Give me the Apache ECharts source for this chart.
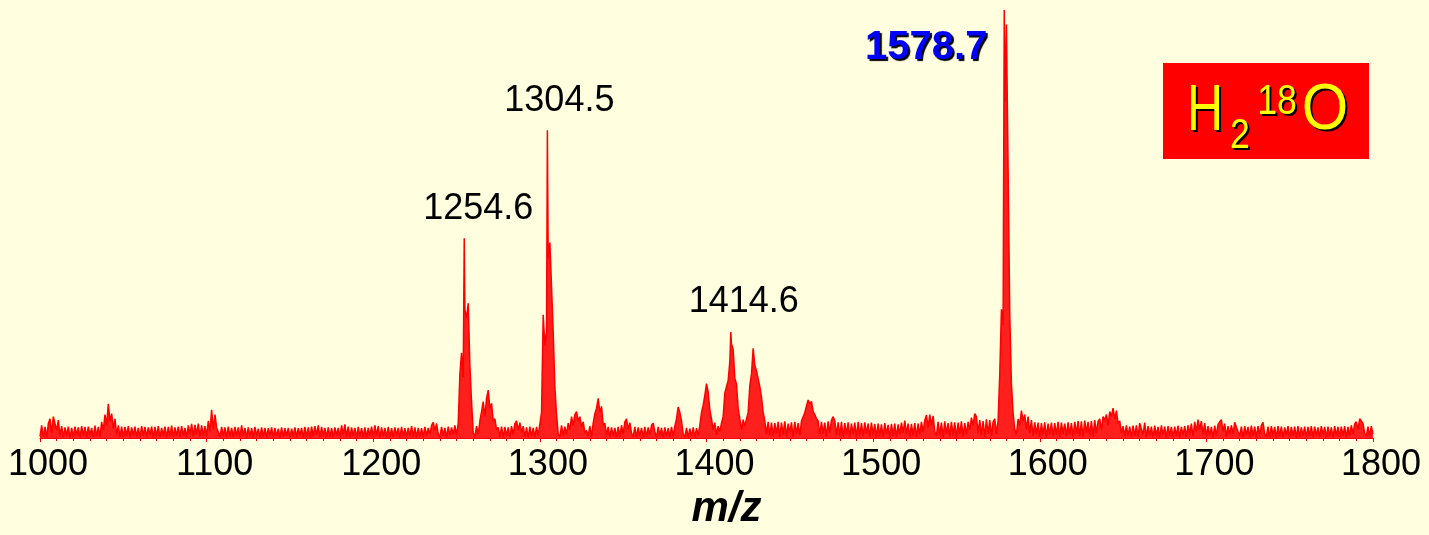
<!DOCTYPE html>
<html>
<head>
<meta charset="utf-8">
<script src="https://cdn.jsdelivr.net/npm/echarts@6/dist/echarts.min.js"></script>
<style>
  html, body { margin: 0; padding: 0; background: #FFFFE0; }
  #chart { width: 1429px; height: 535px; }
</style>
</head>
<body>
<div id="chart"></div>
<script>
// Mass spectrum, relative intensity (0-1000) sampled every 1 m/z from 1000 to 1800
const mzStart = 1000;
const mzStep = 1;
const intensity = [
  4, 30, 3, 26, 2, 34, 45, 12, 50, 48, 18, 42, 5, 28, 2, 25, 6, 27, 1, 24,            // 1000
  3, 27, 7, 25, 1, 28, 5, 26, 2, 27, 6, 24, 1, 29, 4, 26, 3, 38, 18, 55,              // 1020
  30, 80, 40, 57, 22, 45, 8, 30, 3, 27, 1, 26, 5, 28, 2, 25, 6, 27, 3, 24,            // 1040
  1, 28, 5, 26, 2, 25, 7, 27, 1, 26, 4, 28, 2, 24, 6, 27, 1, 26, 4, 29,               // 1060
  2, 25, 5, 27, 3, 28, 6, 24, 2, 30, 8, 33, 4, 31, 9, 34, 3, 30, 6, 28,               // 1080
  4, 40, 15, 66, 20, 55, 25, 28, 3, 26, 5, 25, 1, 27, 4, 24, 2, 26, 6, 25,            // 1100
  2, 30, 6, 24, 1, 25, 4, 23, 2, 26, 5, 22, 1, 25, 3, 24, 2, 23, 6, 25,               // 1120
  1, 24, 4, 22, 1, 25, 3, 23, 5, 24, 1, 22, 4, 25, 2, 23, 6, 24, 1, 26,               // 1140
  3, 25, 1, 27, 4, 28, 7, 30, 2, 26, 5, 24, 1, 25, 3, 23, 2, 25, 6, 24,               // 1160
  2, 30, 8, 32, 3, 27, 1, 25, 5, 24, 1, 26, 4, 23, 2, 25, 1, 24, 5, 27,               // 1180
  3, 30, 6, 28, 1, 25, 4, 24, 1, 26, 3, 23, 2, 25, 6, 24, 1, 26, 4, 23,               // 1200
  2, 24, 5, 28, 3, 25, 1, 24, 4, 23, 2, 26, 6, 24, 8, 30, 37, 18, 34, 10,             // 1220
  3, 26, 5, 24, 1, 27, 6, 25, 8, 30, 6, 35, 150, 199, 142, 300, 281, 315, 169, 85,    // 1240
  12, 4, 28, 8, 40, 62, 85, 50, 93, 112, 70, 81, 40, 45, 20, 25, 3, 27, 1, 26,        // 1260
  5, 25, 2, 28, 8, 34, 40, 18, 36, 12, 28, 3, 25, 1, 27, 4, 24, 2, 26, 6,             // 1280
  8, 60, 288, 216, 250, 420, 457, 453, 248, 119, 55, 10, 3, 30, 6, 27, 8, 35, 20, 50, // 1300
  30, 55, 62, 40, 50, 25, 38, 12, 18, 5, 28, 3, 35, 57, 70, 93, 60, 74, 30, 35,       // 1320
  6, 26, 2, 25, 5, 24, 1, 26, 4, 30, 10, 38, 45, 20, 36, 12, 3, 26, 1, 25,            // 1340
  5, 24, 1, 26, 3, 25, 7, 30, 35, 15, 2, 26, 5, 24, 1, 25, 4, 23, 2, 26,              // 1360
  4, 28, 45, 73, 60, 40, 10, 2, 24, 1, 22, 4, 25, 2, 23, 6, 30, 60, 77, 100,          // 1380
  127, 108, 66, 45, 20, 36, 8, 28, 15, 35, 50, 105, 120, 134, 180, 220, 207, 140, 126, 70, // 1400
  45, 20, 43, 28, 45, 60, 123, 150, 210, 170, 157, 157, 120, 96, 60, 40, 10, 38, 6, 36,   // 1420
  5, 35, 10, 38, 3, 36, 8, 39, 4, 34, 12, 37, 2, 38, 9, 35, 6, 40, 50, 60,            // 1440
  75, 89, 80, 86, 62, 55, 45, 40, 8, 38, 10, 36, 3, 39, 12, 42, 50, 40, 7, 37,        // 1460
  5, 38, 2, 35, 9, 37, 3, 34, 8, 36, 1, 38, 6, 35, 4, 37, 10, 34, 2, 36,              // 1480
  7, 33, 2, 34, 5, 32, 3, 35, 9, 31, 1, 33, 6, 34, 2, 32, 8, 36, 12, 41,              // 1500
  10, 34, 3, 33, 6, 35, 2, 34, 8, 38, 14, 42, 54, 25, 55, 30, 52, 15, 6, 38,          // 1520
  7, 36, 2, 39, 10, 35, 4, 38, 6, 37, 1, 36, 9, 39, 3, 35, 8, 38, 20, 48,             // 1540
  30, 57, 50, 12, 42, 6, 40, 3, 44, 10, 42, 5, 38, 45, 10, 40, 150, 301, 264, 787,    // 1560
  966, 632, 290, 127, 59, 20, 8, 45, 30, 64, 40, 55, 20, 50, 12, 42, 5, 37, 9, 36,    // 1580
  3, 35, 8, 37, 2, 34, 9, 36, 4, 35, 7, 38, 2, 36, 10, 34, 5, 37, 8, 35,              // 1600
  3, 38, 10, 40, 5, 39, 2, 41, 12, 38, 6, 40, 3, 42, 11, 39, 45, 20, 50, 42,          // 1620
  55, 30, 62, 50, 70, 45, 64, 35, 40, 12, 28, 4, 30, 6, 27, 2, 29, 5, 30, 3,          // 1640
  35, 38, 8, 36, 2, 28, 6, 27, 1, 29, 5, 26, 2, 30, 7, 27, 1, 28, 6, 26,              // 1660
  2, 27, 5, 29, 1, 26, 7, 28, 3, 30, 9, 34, 4, 38, 15, 43, 20, 40, 8, 35,             // 1680
  4, 28, 6, 26, 1, 29, 5, 32, 38, 43, 15, 34, 3, 28, 8, 30, 10, 37, 40, 15,           // 1700
  5, 27, 1, 28, 7, 26, 2, 29, 5, 27, 1, 28, 8, 30, 37, 10, 3, 27, 1, 28,              // 1720
  6, 26, 1, 28, 4, 27, 2, 25, 7, 28, 1, 26, 5, 27, 1, 28, 3, 25, 6, 27,               // 1740
  2, 26, 5, 28, 1, 27, 6, 25, 2, 28, 7, 26, 1, 27, 4, 25, 1, 28, 6, 26,               // 1760
  3, 27, 5, 28, 2, 26, 6, 30, 10, 33, 38, 20, 45, 40, 34, 12, 4, 27, 5, 28,           // 1780
  10                                                                                   // 1800
];

// Annotated peak apexes
const peakMz = [1254.6, 1304.5, 1414.6, 1578.7];
const peakIntensity = [467, 719, 248, 1000];

// Axis range and ticks
const axisMin = 1000;
const axisMax = 1800;
const axisStep = 100;

// Trace = regular samples plus the annotated apexes, ordered by m/z
const trace = intensity.map((v, i) => [mzStart + i * mzStep, v]);
peakMz.forEach((mz, i) => trace.push([mz, peakIntensity[i]]));
trace.sort((a, b) => a[0] - b[0]);

const FONT = '"Liberation Sans", Arial, Helvetica, sans-serif';

const plainLabel = {
  show: true, position: 'inside', color: '#000000', fontFamily: FONT, fontSize: 36,
  textBorderWidth: 0, opacity: 1,
  formatter: p => p.value[0].toFixed(1)
};
const labelStyles = [
  Object.assign({}, plainLabel, { offset: [14, -29] }),
  Object.assign({}, plainLabel, { offset: [12, -29] }),
  Object.assign({}, plainLabel, { offset: [13, -30] }),
  Object.assign({}, plainLabel, {
    offset: [-78, 38], color: '#0000ff', fontSize: 40, fontWeight: 'bold',
    textShadowColor: '#000000', textShadowOffsetX: 2, textShadowOffsetY: 2, textShadowBlur: 1
  })
];
const peakPoints = peakMz.map((mz, i) => ({
  value: [mz, peakIntensity[i]],
  label: labelStyles[i]
}));

// Yellow-on-red isotope tag, each glyph drawn over a black drop shadow
function tagGlyph(text, x, y, size, sx) {
  const base = { type: 'text', x: x, y: y, scaleX: sx, silent: true };
  const st = { text: text, font: size + 'px ' + FONT, align: 'center', verticalAlign: 'middle' };
  return [
    Object.assign({}, base, { x: x + 2, y: y + 2, style: Object.assign({}, st, { fill: '#000' }) }),
    Object.assign({}, base, { style: Object.assign({}, st, { fill: '#ffff00' }) })
  ];
}
const tag = [{ type: 'rect', shape: { x: 1163, y: 63, width: 206, height: 96 }, style: { fill: '#ff0000' }, silent: true }]
  .concat(tagGlyph('H', 1205, 112, 65, 0.77))
  .concat(tagGlyph('2', 1240, 136, 42, 0.85))
  .concat(tagGlyph('18', 1277, 102, 42, 0.85))
  .concat(tagGlyph('O', 1325, 111, 65, 0.92));

const chart = echarts.init(document.getElementById('chart'), null, { renderer: 'canvas' });
chart.setOption({
  backgroundColor: '#FFFFE0',
  animation: false,
  grid: { left: 40, right: 56, top: 10, bottom: 86, containLabel: false },
  xAxis: {
    type: 'value',
    min: axisMin, max: axisMax, interval: axisStep,
    name: 'm/z',
    nameLocation: 'middle',
    nameGap: 41,
    nameTextStyle: {
      fontFamily: FONT, fontSize: 42, fontWeight: 'bold', fontStyle: 'italic',
      color: '#000', padding: [0, 0, 0, 40]
    },
    axisLine: { show: true, lineStyle: { color: '#ff0000', width: 1 } },
    axisTick: { show: true, length: 4, lineStyle: { color: '#ff0000' } },
    minorTick: { show: true, splitNumber: 10, length: 3, lineStyle: { color: '#ff0000' } },
    splitLine: { show: false },
    axisLabel: {
      show: true, margin: 9, fontFamily: FONT, fontSize: 36, color: '#000',
      padding: [0, 0, 0, 16], showMinLabel: true, showMaxLabel: true,
      formatter: v => String(v)
    }
  },
  yAxis: {
    type: 'value', min: 0, max: 1000, show: false, splitLine: { show: false }
  },
  series: [
    {
      type: 'line',
      data: trace,
      showSymbol: false,
      symbol: 'none',
      sampling: false,
      lineStyle: { color: '#ff0000', width: 1.5 },
      areaStyle: { color: '#ff0000', opacity: 0.88 },
      silent: true,
      z: 2
    },
    {
      type: 'scatter',
      data: peakPoints,
      symbolSize: 0,
      itemStyle: { color: '#ff0000', opacity: 1 },
      silent: true,
      z: 3
    }
  ],
  graphic: { elements: tag }
});
</script>
</body>
</html>
